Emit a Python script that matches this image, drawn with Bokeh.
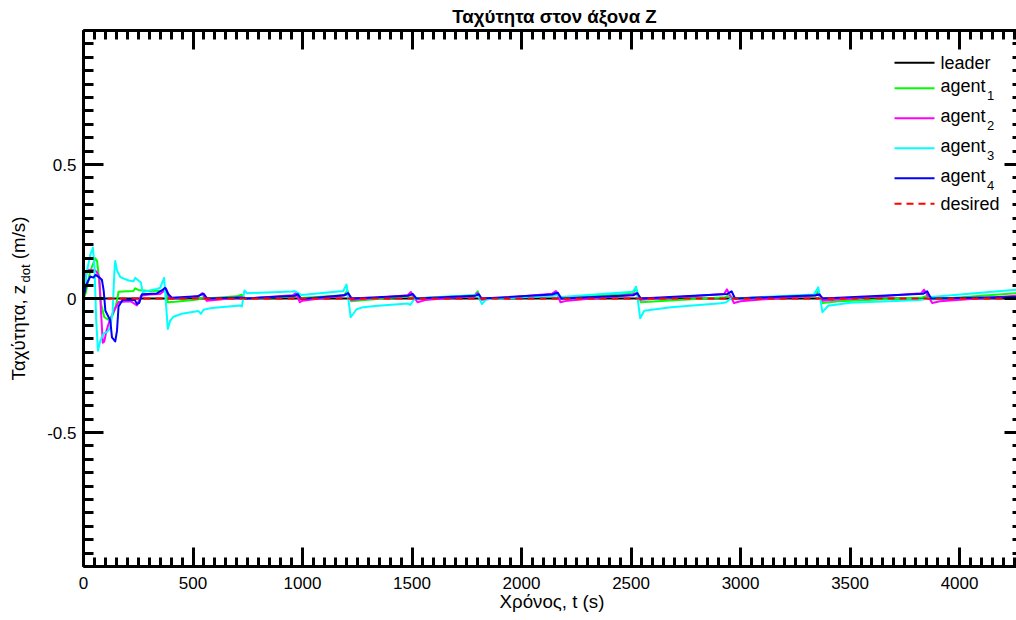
from bokeh.plotting import figure
from bokeh.models import Range1d, FixedTicker, LinearAxis, Label
from bokeh.embed import file_html
from bokeh.resources import INLINE

# ---- data: time (s), vertical velocity (m/s) ----
leader_pts = [(0, 0.0), (4260, 0.0)]
desired_pts = [(0, 0.0), (4260, 0.0)]

agent1_pts = [
    (0, 0.0), (10, 0.02), (30, 0.1), (54, 0.15), (62, 0.14), (70, 0.08), (80, -0.02),
    (95, -0.07), (115, -0.08), (135, -0.06), (150, -0.02), (160, 0.025), (200, 0.027),
    (228, 0.028), (236, 0.038), (250, 0.032), (300, 0.028), (360, 0.03), (373, 0.04),
    (385, -0.014), (420, -0.012), (520, -0.004), (545, 0.004), (560, 0.0), (700, 0.008),
    (722, 0.014), (740, 0.0), (960, 0.008), (975, 0.014), (990, 0.002), (1190, 0.012),
    (1205, 0.03), (1222, -0.01), (1300, -0.005), (1480, 0.008), (1497, 0.012), (1515, 0.0),
    (1785, 0.012), (1800, 0.027), (1815, -0.004), (2140, 0.012), (2160, 0.016), (2178, 0.002),
    (2505, 0.018), (2524, 0.035), (2545, -0.014), (2620, -0.01), (2930, 0.005), (2950, 0.012),
    (2970, 0.0), (3340, 0.01), (3356, 0.028), (3374, -0.017), (3450, -0.01), (3830, 0.004),
    (3850, 0.01), (3870, -0.004), (4260, 0.02),
]

agent2_pts = [
    (0, 0.0), (12, 0.09), (22, 0.107), (52, 0.105), (60, 0.1), (72, 0.08), (80, -0.05),
    (88, -0.165), (95, -0.16), (105, -0.12), (120, -0.08), (140, -0.045), (160, -0.013),
    (215, -0.01), (244, -0.026), (262, 0.01), (300, 0.015), (350, 0.017), (370, 0.03),
    (378, 0.035), (392, 0.0), (450, 0.002), (525, 0.008), (542, 0.02), (562, -0.008),
    (720, 0.004), (745, 0.0), (955, 0.012), (970, 0.02), (988, -0.014), (1000, -0.008),
    (1190, 0.012), (1203, 0.016), (1222, -0.006), (1480, 0.012), (1495, 0.024), (1525, -0.014),
    (1560, -0.006), (1785, 0.01), (1800, 0.02), (1815, -0.005), (2140, 0.018), (2157, 0.028),
    (2178, -0.014), (2210, -0.008), (2505, 0.014), (2523, 0.02), (2545, -0.005), (2925, 0.017),
    (2938, 0.034), (2970, -0.017), (3000, -0.01), (3340, 0.012), (3355, 0.016), (3375, -0.008),
    (3825, 0.02), (3838, 0.033), (3875, -0.017), (3910, -0.01), (4260, 0.01),
]

agent3_pts = [
    (0, 0.0), (15, 0.1), (30, 0.16), (43, 0.19), (50, 0.12), (58, -0.08), (66, -0.195),
    (76, -0.16), (92, -0.13), (108, -0.125), (122, -0.11), (133, -0.05), (141, 0.1),
    (145, 0.14), (153, 0.105), (168, 0.08), (206, 0.067), (228, 0.064), (236, 0.077),
    (251, 0.067), (262, 0.06), (270, 0.024), (335, 0.036), (350, 0.04), (368, 0.077),
    (385, -0.114), (396, -0.083), (411, -0.068), (449, -0.057), (525, -0.047), (536, -0.057),
    (548, -0.042), (586, -0.035), (715, -0.026), (723, -0.03), (735, 0.03), (746, 0.02),
    (951, 0.026), (966, 0.027), (981, 0.02), (996, 0.013), (1186, 0.028), (1201, 0.052),
    (1220, -0.07), (1247, -0.04), (1270, -0.034), (1330, -0.028), (1482, -0.019),
    (1492, -0.024), (1512, 0.0), (1600, 0.005), (1785, 0.012), (1800, 0.014), (1819, -0.021),
    (1840, -0.002), (2150, 0.01), (2162, 0.012), (2180, 0.006), (2508, 0.025), (2523, 0.044),
    (2542, -0.074), (2560, -0.046), (2682, -0.033), (2910, -0.018), (2935, -0.014),
    (2955, 0.0), (3335, 0.015), (3355, 0.042), (3374, -0.051), (3400, -0.027), (3500, -0.016),
    (3822, -0.006), (3852, 0.0), (3870, 0.006), (4260, 0.033),
]

agent4_pts = [
    (0, 0.0), (12, 0.05), (31, 0.082), (45, 0.078), (55, 0.088), (70, 0.08), (84, 0.07),
    (92, 0.03), (100, -0.046), (115, -0.07), (122, -0.08), (130, -0.145), (145, -0.16),
    (153, -0.12), (160, -0.03), (178, -0.006), (235, -0.006), (244, -0.021), (255, -0.016),
    (267, 0.016), (335, 0.019), (358, 0.03), (373, 0.04), (388, 0.016), (403, 0.003),
    (520, 0.008), (548, 0.018), (565, 0.0), (720, 0.004), (745, 0.0), (965, 0.01),
    (978, 0.016), (995, -0.002), (1190, 0.012), (1208, 0.02), (1225, 0.0), (1480, 0.01),
    (1503, 0.017), (1520, 0.0), (1788, 0.01), (1805, 0.016), (1818, 0.0), (2140, 0.015),
    (2165, 0.022), (2182, 0.0), (2510, 0.012), (2528, 0.02), (2545, 0.0), (2940, 0.017),
    (2959, 0.027), (2975, 0.0), (3345, 0.012), (3360, 0.015), (3375, 0.0), (3835, 0.018),
    (3852, 0.027), (3870, 0.0), (4260, 0.006),
]

x_ticks = [0, 500, 1000, 1500, 2000, 2500, 3000, 3500, 4000]
x_tick_labels = ["0", "500", "1000", "1500", "2000", "2500", "3000", "3500", "4000"]
y_ticks = [-0.5, 0, 0.5]
y_tick_labels = ["-0.5", "0", "0.5"]
x_minor = [50 * i for i in range(86)]
y_minor = [round(-1 + 0.05 * i, 2) for i in range(41)]

legend_names = ["leader", "agent", "agent", "agent", "agent", "desired"]
legend_subs = ["", "1", "2", "3", "4", ""]

# ---- layout: the frame fills the whole canvas; the axes box sits inside it ----
W, H = 1016, 620
L, T, B = 83, 30, 54           # margins of the axes box, px
X0, X1 = 0, 4260
Y0, Y1 = -1.0, 1.0
sx = (W - L) / (X1 - X0)       # px per second
sy = (H - T - B) / (Y1 - Y0)   # px per m/s
FONT = "Liberation Sans"
TICK_FS = 17
LABEL_FS = 18.7                # axis labels and title are 1.1x the tick font
BASE_SHIFT = 0.36              # rendered baseline sits this many em below the anchor

p = figure(width=W, height=H,
           x_range=Range1d(X0 - L / sx, X1),
           y_range=Range1d(Y0 - B / sy, Y1 + T / sy),
           output_backend="svg", toolbar_location=None,
           x_axis_location=None, y_axis_location=None,
           min_border=0)
p.outline_line_color = None
p.xgrid.visible = False
p.ygrid.visible = False
p.background_fill_color = "white"
p.border_fill_color = "white"

# canvas-pixel ranges (origin at top-left) for text and legend placement
p.extra_x_ranges = {"cx": Range1d(0, W)}
p.extra_y_ranges = {"cy": Range1d(H, 0)}


def make_axis(ticks, minor, labels, tick_in, minor_in, loc, bounds, show_labels,
              show_line=True, standoff=0):
    ax = LinearAxis(ticker=FixedTicker(ticks=ticks, minor_ticks=minor),
                    fixed_location=loc, bounds=bounds)
    ax.major_tick_in = tick_in
    ax.major_tick_out = 0
    ax.minor_tick_in = minor_in
    ax.minor_tick_out = 0
    ax.major_tick_line_width = 3
    ax.minor_tick_line_width = 3
    ax.major_tick_line_color = "black"
    ax.minor_tick_line_color = "black"
    if show_line:
        ax.axis_line_width = 3
        ax.axis_line_color = "black"
    else:
        ax.axis_line_color = None
    ax.major_label_text_font = FONT
    ax.major_label_text_font_size = f"{TICK_FS}px"
    ax.major_label_text_color = "black"
    ax.major_label_standoff = standoff
    if show_labels:
        ax.major_label_overrides = {t: s for t, s in zip(ticks, labels)}
    else:
        ax.major_label_overrides = {t: "" for t in ticks}
    return ax


p.add_layout(make_axis(x_ticks, x_minor, x_tick_labels, 19, 9, Y0, (X0, X1), True,
                       standoff=10), "below")
p.add_layout(make_axis(x_ticks, x_minor, x_tick_labels, 19, 9, Y1, (X0, X1), False), "above")
p.add_layout(make_axis(y_ticks, y_minor, y_tick_labels, 20, 10, X0, (Y0, Y1), True,
                       standoff=7), "left")
p.add_layout(make_axis(y_ticks, y_minor, y_tick_labels, 12, 4, X1, (Y0, Y1), False,
                       show_line=False), "right")

# ---- curves ----
series = [
    (leader_pts, "black", "solid"),
    (agent1_pts, "#00ff00", "solid"),
    (agent2_pts, "#ff00ff", "solid"),
    (agent3_pts, "#00ffff", "solid"),
    (agent4_pts, "#0000ff", "solid"),
    (desired_pts, "#ff0000", "7 5"),
]
for pts, color, dash in series:
    xs = [a for a, _ in pts]
    ys = [b for _, b in pts]
    p.line(xs, ys, line_color=color, line_width=2, line_dash=dash, line_join="round")


def add_text(x, y, text, size, angle=0.0, **kw):
    # (x, y) is the wanted baseline point in canvas px
    shift = BASE_SHIFT * size
    if angle:
        x -= shift
    else:
        y -= shift
    p.add_layout(Label(x=x, y=y, text=text, angle=angle, x_range_name="cx",
                       y_range_name="cy", text_font=FONT, text_font_size=f"{size}px",
                       text_color="black", text_baseline="alphabetic", **kw))


# ---- legend (drawn by hand so that subscripts can be shown) ----
row_line_y = [62.3, 87.7, 117.7, 147.7, 177.7, 203.3]
row_text_y = [69.3, 91.7, 121.7, 151.7, 181.7, 210.0]
for (pts, color, dash), name, sub, ly, ty in zip(series, legend_names, legend_subs,
                                               row_line_y, row_text_y):
    p.line([894, 934], [ly, ly], line_color=color, line_width=2, line_dash=dash,
           x_range_name="cx", y_range_name="cy")
    add_text(940, ty, name, 18, text_align="left")
    if sub:
        add_text(986.5, ty + 8, sub, 13, text_align="left")

# ---- title and axis labels ----
add_text(554, 22.7, "Ταχύτητα στον άξονα Z", LABEL_FS, text_align="center",
         text_font_style="bold")
add_text(551.5, 607.5, "Χρόνος, t (s)", LABEL_FS, text_align="center")

WIDTHS = {"Τ": 611, "α": 578, "χ": 524, "ύ": 548, "τ": 395, "η": 556, ",": 278, " ": 278,
          "z": 500, "d": 556, "o": 556, "t": 278, "(": 333, "m": 833, "/": 278, "s": 500,
          ")": 333}


def text_width(s, size):
    return sum(WIDTHS.get(c, 556) for c in s) / 1000.0 * size


# y label "Ταχύτητα, z_dot (m/s)" assembled from three rotated pieces
y_main, y_sub, y_tail = "Ταχύτητα, z", "dot", "(m/s)"
fs_sub = 13
w_main = text_width(y_main, LABEL_FS)
w_sub = text_width(y_sub, fs_sub)
w_gap = text_width(" ", LABEL_FS)
w_tail = text_width(y_tail, LABEL_FS)
y_start = 298 + (w_main + w_sub + w_gap + w_tail) / 2.0
base_x = 24.5
for txt, fs, dx, off in [(y_main, LABEL_FS, 0, 0), (y_sub, fs_sub, 5, w_main),
                         (y_tail, LABEL_FS, 0, w_main + w_sub + w_gap)]:
    add_text(base_x + dx, y_start - off, txt, fs, angle=1.5707963, text_align="left")

open("out.html", "w").write(file_html(p, INLINE))
